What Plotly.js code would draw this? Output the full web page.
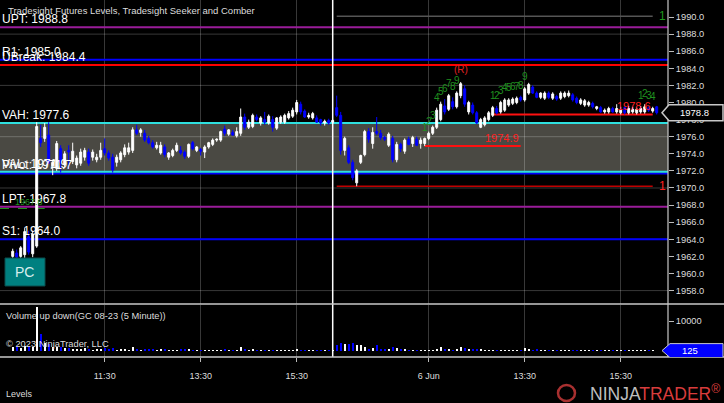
<!DOCTYPE html>
<html><head><meta charset="utf-8">
<script src="https://cdn.plot.ly/plotly-3.0.1.min.js"></script>
<style>html,body{margin:0;padding:0;background:#000;}#chart{width:724px;height:403px;}</style>
</head><body><div id="chart"></div>
<script>
// ---- DATA (5-minute bars, GC 08-23) ----
const opens = [1962.0,1962.4,1962.0,1962.2,1964.3,1962.3,1963.2,1975.8,1975.8,1976.2,1972.6,1972.3,1974.6,1972.7,1974.4,1973.1,1972.7,1972.9,1973.6,1974.2,1973.6,1973.3,1973.6,1974.6,1974.1,1973.6,1973.0,1973.3,1973.9,1974.2,1974.4,1976.8,1976.5,1976.4,1975.8,1975.3,1974.7,1974.1,1974.8,1973.6,1973.8,1974.4,1974.4,1974.2,1973.7,1975.3,1974.4,1974.5,1974.2,1974.8,1975.1,1975.6,1975.6,1976.9,1976.3,1976.5,1976.1,1976.4,1978.3,1977.1,1977.2,1978.3,1977.6,1978.0,1977.6,1978.0,1977.0,1977.7,1977.7,1978.2,1978.4,1978.9,1979.8,1979.0,1978.3,1978.2,1978.2,1978.0,1977.6,1977.9,1977.7,
1979.4,1978.5,1974.4,1974.7,1973.0,1970.6,1973.0,1973.9,1976.6,1975.2,1976.6,1976.4,1975.9,1975.0,1975.8,1973.3,1975.1,1974.3,1975.7,1975.2,1975.7,1975.2,1975.2,1975.8,1976.4,1977.1,1978.0,1979.6,1979.2,1980.1,1979.5,1980.8,1981.6,1978.9,1979.7,1978.8,1977.1,1977.4,1978.0,1978.5,1979.3,1978.9,1979.1,1979.7,1979.9,1980.0,1980.6,1980.3,1981.1,1981.8,1981.1,1980.6,1980.5,1981.1,1980.5,1980.7,1980.5,1980.7,1980.8,1980.9,1980.5,1979.9,1979.7,1979.7,1979.9,1979.3,1979.4,1978.9,1978.9,1979.3,1978.9,1978.8,1979.4,1978.8,1978.9,1978.8,1978.9,1978.9,1979.4,1979.0,1979.5];
const highs = [1962.9,1962.8,1963.2,1965.3,1965.0,1965.0,1977.7,1977.4,1977.6,1977.7,1973.3,1975.5,1975.0,1974.3,1975.0,1975.3,1973.8,1974.6,1974.7,1974.6,1974.5,1974.0,1975.3,1975.8,1974.4,1974.0,1973.9,1974.3,1975.1,1975.3,1977.1,1977.4,1977.0,1976.8,1976.1,1975.6,1975.4,1975.4,1975.1,1974.2,1974.6,1975.3,1974.9,1974.4,1975.2,1975.5,1974.9,1974.7,1975.0,1975.4,1975.8,1975.8,1976.7,1977.3,1976.9,1976.8,1977.1,1979.3,1978.7,1978.0,1978.7,1978.6,1978.4,1978.9,1978.6,1978.4,1978.3,1978.5,1978.7,1979.0,1979.4,1980.3,1980.1,1979.2,1978.8,1978.9,1978.5,1978.1,1978.0,1978.1,1978.0,
1980.8,1978.9,1976.0,1975.0,1973.3,1972.2,1973.9,1976.8,1977.0,1977.1,1978.3,1976.8,1976.1,1976.5,1976.1,1975.4,1975.3,1975.8,1976.0,1976.1,1976.0,1975.9,1975.9,1976.6,1977.3,1979.4,1980.1,1980.4,1981.0,1980.6,1981.3,1982.4,1982.0,1980.2,1980.0,1979.0,1978.2,1978.4,1979.0,1979.6,1979.6,1980.2,1980.5,1980.5,1980.6,1980.7,1980.8,1981.8,1982.3,1982.0,1981.3,1981.2,1981.3,1981.3,1981.2,1980.9,1981.3,1981.3,1981.4,1981.1,1980.7,1980.5,1980.4,1980.2,1980.1,1979.6,1979.6,1979.3,1979.5,1979.5,1979.8,1979.5,1979.6,1979.6,1979.5,1979.4,1979.6,1979.8,1979.6,1979.5,1979.6];
const lows = [1961.6,1961.6,1961.7,1961.8,1962.2,1961.9,1963.0,1974.8,1975.4,1972.8,1971.5,1972.0,1971.8,1972.4,1972.2,1972.8,1972.3,1972.6,1973.2,1972.6,1973.2,1973.0,1973.3,1973.8,1973.2,1971.8,1972.5,1973.0,1973.6,1973.9,1974.1,1976.2,1976.0,1975.4,1975.1,1974.6,1974.5,1973.9,1973.6,1973.3,1973.6,1974.2,1973.9,1973.4,1973.5,1974.4,1974.2,1973.8,1973.5,1974.6,1974.9,1975.4,1975.4,1976.1,1976.1,1976.1,1975.9,1976.1,1976.8,1976.9,1977.0,1977.8,1977.3,1977.4,1977.4,1976.6,1976.8,1977.5,1977.5,1978.0,1978.2,1978.6,1978.6,1978.2,1978.1,1978.0,1977.6,1977.3,1977.3,1977.4,1977.5,
1978.3,1973.9,1973.8,1972.8,1970.9,1970.2,1972.8,1973.7,1975.3,1974.6,1976.2,1975.6,1975.5,1974.8,1973.0,1973.0,1974.2,1974.0,1975.0,1974.8,1974.9,1974.6,1974.9,1975.6,1976.2,1976.9,1977.8,1978.6,1979.0,1979.2,1979.3,1980.5,1979.5,1978.6,1978.6,1977.5,1977.0,1977.2,1977.8,1978.3,1978.6,1978.7,1978.9,1979.5,1979.7,1979.8,1980.1,1980.1,1980.9,1981.0,1980.5,1980.4,1980.3,1980.4,1980.3,1980.2,1980.3,1980.5,1980.6,1980.1,1979.8,1979.7,1979.5,1979.5,1979.3,1979.1,1978.8,1978.7,1978.7,1978.8,1978.7,1978.6,1978.6,1978.6,1978.7,1978.6,1978.7,1978.7,1978.9,1978.8,1978.6];
const closes = [1962.6,1961.9,1963.0,1964.9,1962.5,1964.6,1977.2,1975.3,1977.1,1973.0,1973.0,1975.2,1973.0,1974.0,1974.2,1974.3,1973.5,1974.2,1974.4,1972.9,1974.2,1973.6,1974.4,1974.1,1973.5,1972.1,1973.6,1974.1,1974.7,1974.7,1976.8,1976.4,1976.8,1975.6,1975.3,1974.8,1975.0,1975.0,1973.9,1974.1,1974.4,1975.0,1974.1,1973.7,1975.1,1974.6,1974.8,1974.3,1974.8,1975.3,1975.6,1975.7,1976.6,1976.4,1976.8,1976.2,1976.6,1978.3,1977.1,1977.7,1978.5,1978.0,1978.2,1977.7,1978.4,1977.1,1978.2,1978.3,1978.5,1978.7,1979.1,1980.0,1978.9,1978.3,1978.5,1978.7,1977.7,1977.6,1977.8,1977.6,1977.9,
1978.5,1974.4,1975.8,1973.0,1971.2,1972.0,1973.8,1976.6,1975.7,1976.5,1976.4,1975.9,1975.7,1976.3,1973.3,1975.1,1974.6,1975.6,1975.1,1975.9,1975.0,1975.6,1975.8,1976.4,1977.1,1979.1,1979.8,1978.9,1980.8,1979.5,1981.1,1982.2,1979.8,1980.0,1978.8,1977.6,1978.0,1978.2,1978.8,1979.4,1978.8,1980.0,1980.3,1980.3,1980.4,1980.5,1980.3,1981.6,1982.1,1981.1,1980.6,1981.1,1981.1,1980.6,1981.0,1980.4,1981.1,1981.1,1981.1,1980.3,1980.0,1980.3,1980.2,1980.0,1979.5,1979.5,1978.9,1979.1,1979.3,1978.9,1979.3,1979.1,1978.8,1979.3,1979.2,1979.2,1979.3,1979.5,1979.1,1979.3,1978.8];
const volumes = [1200,1500,1100,1800,1600,1400,14600,5800,2600,2400,1300,1500,1200,900,1100,800,600,700,900,800,500,600,700,900,600,1000,500,600,700,500,1400,700,500,800,700,800,500,600,700,400,500,500,600,700,600,500,400,500,400,500,400,300,500,600,400,300,400,1500,700,500,600,400,400,300,400,400,500,300,300,300,400,600,500,400,300,300,400,300,200,300,300,
1900,2700,2200,2500,2600,2100,1900,1500,800,900,1900,800,600,700,1400,900,600,800,500,500,400,400,500,400,500,800,1400,700,600,500,800,1400,1000,700,600,800,600,500,400,500,400,500,400,300,300,300,400,1000,700,500,600,300,300,400,300,300,300,300,300,400,300,200,300,200,300,200,300,200,200,200,200,200,300,200,200,300,500,300,200,200,125];

const tickBars = [23, 47, 71, 104, 128, 152];
const tickLabels = ['11:30', '13:30', '15:30', '6 Jun', '13:30', '15:30'];
const sessionBreakBar = 80;

const levelNames = ['UPT', 'R1', 'UBreak', 'VAH', 'Pivot', 'VAL', 'LPT', 'S1'];
const levelValues = [1988.8, 1985.0, 1984.4, 1977.6, 1971.7, 1971.9, 1967.8, 1964.0];
const pcLevel = 1967.6;
const gridPrices = [1958, 1964, 1970, 1976, 1982, 1988];

const seqStarts = [103, 120, 157];
const seqCounts = [9, 9, 4];
const reversalBar = 112;

const targetValues = [1974.9, 1978.6];
const targetStarts = [103, 120];
const targetEnds = [127, 160];

const comberValues = [1990.1, 1970.2];
const comberStarts = [81, 81];
const comberEnds = [160, 160];
const comberCounts = ['1', '1'];

// ---- STYLE / LAYOUT CONSTANTS ----
const W = 724, H = 403, plotW = 668, plotH = 357;
const barPx = 4, firstBarPx = 12.7;
const xr0 = -firstBarPx / barPx, xr1 = xr0 + plotW / barPx;
const FONT = 'Liberation Sans, Arial, sans-serif';
const levelColor = {UPT:'#9a1c9a', R1:'#0000ff', UBreak:'#ff0000', VAH:'#2ee0e0', VAL:'#2ee0e0', Pivot:'#0000ff', LPT:'#9a1c9a', S1:'#0000ff'};
const comberColors = ['#555555', '#c00000'];
const comberLabelColors = ['#1f9a1f', '#ff2020'];
const GREEN = '#1f8f1f';
const px = p => p / plotW;
const py = p => (plotH - p) / plotH;

const idx = opens.map((_, i) => i);
const N = idx.length;
const lastPrice = closes[N - 1];
const lastVol = volumes[N - 1];

const candle = {
  type: 'candlestick', x: idx, open: opens, high: highs, low: lows, close: closes,
  xaxis: 'x', yaxis: 'y', whiskerwidth: 0, hoverinfo: 'skip',
  increasing: {line: {color: '#ffffff', width: 1}, fillcolor: '#ffffff'},
  decreasing: {line: {color: '#0000ff', width: 1}, fillcolor: '#0000ff'}
};
const vol = {
  type: 'bar', x: idx, y: volumes, xaxis: 'x', yaxis: 'y2', width: 0.55, hoverinfo: 'skip',
  marker: {color: idx.map(i => closes[i] >= opens[i] ? '#ffffff' : '#0000ff'), line: {width: 0}}
};

const shapes = [];
const ann = [];
// value area box
const vah = levelValues[levelNames.indexOf('VAH')], val = levelValues[levelNames.indexOf('VAL')];
shapes.push({type:'rect', xref:'x', yref:'y', x0:xr0, x1:xr1, y0:val, y1:vah, fillcolor:'#4a4943', line:{width:0}, layer:'below'});
gridPrices.forEach(g => shapes.push({type:'line', xref:'x', yref:'y', x0:xr0, x1:xr1, y0:g, y1:g, line:{color:'rgba(255,255,255,0.22)', width:1}, layer:'below'}));
// level lines + labels
levelNames.forEach((n, i) => {
  shapes.push({type:'line', xref:'x', yref:'y', x0:xr0, x1:xr1, y0:levelValues[i], y1:levelValues[i], line:{color:levelColor[n], width:2}, layer:'between'});
  ann.push({xref:'paper', yref:'y', x:0, y:levelValues[i], xanchor:'left', yanchor:'bottom', yshift:-1, showarrow:false,
    text: n + ': ' + levelValues[i].toFixed(1), font:{size:12, color:'#ffffff', family:FONT}});
});
// PC dashed level
shapes.push({type:'line', xref:'x', yref:'y', x0:xr0, x1:8, y0:pcLevel, y1:pcLevel, line:{color:GREEN, width:1, dash:'dash'}, layer:'between'});
ann.push({xref:'x', yref:'y', x:8, y:pcLevel, xanchor:'right', yanchor:'bottom', showarrow:false, text:pcLevel.toFixed(1), font:{size:9, color:GREEN, family:FONT}});
// comber lines
comberValues.forEach((v, i) => {
  shapes.push({type:'line', xref:'x', yref:'y', x0:comberStarts[i], x1:comberEnds[i], y0:v, y1:v, line:{color:comberColors[i], width:1.5}, layer:'between'});
  ann.push({xref:'x', yref:'y', x:comberEnds[i], y:v, xanchor:'left', yanchor:'middle', xshift:4, showarrow:false, text:comberCounts[i], font:{size:12, color:comberLabelColors[i], family:FONT}});
});
// targets
targetValues.forEach((v, i) => {
  shapes.push({type:'line', xref:'x', yref:'y', x0:targetStarts[i], x1:targetEnds[i], y0:v, y1:v, line:{color:'#ff1010', width:2}, layer:'between'});
  ann.push({xref:'x', yref:'y', x:targetEnds[i], y:v, xanchor:'right', yanchor:'bottom', showarrow:false, text:v.toFixed(1), font:{size:11, color:'#ff2020', family:FONT}});
});
// sequence counts
seqStarts.forEach((s, j) => {
  for (let k = 0; k < seqCounts[j]; k++) {
    const b = s + k;
    ann.push({xref:'x', yref:'y', x:b, y:highs[b], xanchor:'center', yanchor:'bottom', yshift:3, showarrow:false, text:String(k + 1), font:{size:10, color:GREEN, family:FONT}});
  }
});
ann.push({xref:'x', yref:'y', x:reversalBar, y:highs[reversalBar], xanchor:'center', yanchor:'bottom', yshift:5, showarrow:false, text:'(R)', font:{size:10, color:'#e02020', family:FONT}});
// session break
shapes.push({type:'line', xref:'x', yref:'paper', x0:sessionBreakBar, x1:sessionBreakBar, y0:0, y1:1, line:{color:'#ffffff', width:1.5}, layer:'above'});
// panel borders
shapes.push({type:'line', xref:'paper', yref:'paper', x0:0, x1:W/plotW, y0:py(304), y1:py(304), line:{color:'#c8c8c8', width:1.5}, layer:'above'});
shapes.push({type:'line', xref:'paper', yref:'paper', x0:0, x1:W/plotW, y0:0, y1:0, line:{color:'#c8c8c8', width:1.5}, layer:'above'});
shapes.push({type:'line', xref:'paper', yref:'paper', x0:1, x1:1, y0:0, y1:1, line:{color:'#c8c8c8', width:1.2}, layer:'above'});
// PC box
shapes.push({type:'rect', xref:'paper', yref:'paper', x0:px(5), x1:px(45), y0:py(286), y1:py(258), fillcolor:'#008080', line:{color:'#0b4c4c', width:1}, layer:'above'});
ann.push({xref:'paper', yref:'paper', x:px(25), y:py(272), xanchor:'center', yanchor:'middle', showarrow:false, text:'PC', font:{size:14, color:'#d8eeee', family:FONT}});
// last price marker
shapes.push({type:'path', xref:'paper', yref:'y', xsizemode:'pixel', ysizemode:'pixel', xanchor:1, yanchor:lastPrice,
  path:'M -6 0 L 1 8 L 55 8 L 55 -8 L 1 -8 Z', fillcolor:'#000000', line:{color:'#c8c8c8', width:1.5}, layer:'above'});
ann.push({xref:'paper', yref:'y', x:1, y:lastPrice, xanchor:'left', yanchor:'middle', xshift:10, showarrow:false, text:lastPrice.toFixed(1), font:{size:9.5, color:'#ffffff', family:FONT}});
// last volume marker
shapes.push({type:'path', xref:'paper', yref:'y2', xsizemode:'pixel', ysizemode:'pixel', xanchor:1, yanchor:lastVol,
  path:'M -6 0 L 2 7 L 55 7 L 55 -7 L 2 -7 Z', fillcolor:'#0000ff', line:{color:'#c8c8c8', width:1}, layer:'above'});
ann.push({xref:'paper', yref:'y2', x:1, y:lastVol, xanchor:'left', yanchor:'middle', xshift:12, showarrow:false, text:String(lastVol), font:{size:9.5, color:'#ffffff', family:FONT}});
// texts
ann.push({xref:'paper', yref:'paper', x:px(6), y:py(3), xanchor:'left', yanchor:'top', showarrow:false, text:'Tradesight Futures Levels, Tradesight Seeker and Comber', font:{size:9.5, color:'#dddddd', family:FONT}});
ann.push({xref:'paper', yref:'paper', x:px(4), y:py(316), xanchor:'left', yanchor:'middle', showarrow:false, text:'Volume up down(GC 08-23 (5 Minute))', font:{size:9.3, color:'#dddddd', family:FONT}});
ann.push({xref:'paper', yref:'paper', x:px(4), y:py(344), xanchor:'left', yanchor:'middle', showarrow:false, text:'© 2023 NinjaTrader, LLC', font:{size:9.3, color:'#dddddd', family:FONT}});
ann.push({xref:'paper', yref:'paper', x:px(4), y:py(394), xanchor:'left', yanchor:'middle', showarrow:false, text:'Levels', font:{size:9, color:'#dddddd', family:FONT}});
ann.push({xref:'paper', yref:'paper', x:px(722), y:py(393), xanchor:'right', yanchor:'middle', showarrow:false,
  text:'<span style="color:#bdbdbd">NINJA</span><span style="color:#d83c3c">TRADER</span><sup>®</sup>', font:{size:17.5, color:'#d83c3c', family:FONT}});
shapes.push({type:'circle', xref:'paper', yref:'paper', x0:px(558), x1:px(575), y0:py(401), y1:py(385), line:{color:'#a83030', width:2.5}, fillcolor:'rgba(0,0,0,0)', layer:'above'});

const layout = {
  width: W, height: H, margin: {l:0, r:W - plotW, t:0, b:H - plotH, pad:0},
  paper_bgcolor: '#000000', plot_bgcolor: 'rgba(0,0,0,0)', showlegend: false,
  font: {family: FONT, color: '#dddddd'},
  xaxis: {range:[xr0, xr1], anchor:'y2', tickmode:'array', tickvals:tickBars, ticktext:tickLabels,
    showgrid:true, gridcolor:'rgba(255,255,255,0.22)', gridwidth:1, zeroline:false, showline:false,
    ticks:'outside', ticklen:4, tickcolor:'#bbbbbb', ticklabelstandoff:6,
    tickfont:{size:9, color:'#dddddd', family:FONT}, rangeslider:{visible:false}, fixedrange:true},
  yaxis: {domain:[(plotH - 304) / plotH, 1], anchor:'x', side:'right', range:[1956.43, 1991.99],
    tick0:1958, dtick:2, tickformat:'.1f', ticks:'outside', ticklen:5, tickcolor:'#bbbbbb',
    tickfont:{size:9.3, color:'#dddddd', family:FONT}, showgrid:false, zeroline:false, showline:false, fixedrange:true},
  yaxis2: {domain:[0, (plotH - 305) / plotH], anchor:'x', side:'right', range:[-2000, 15333],
    tickmode:'array', tickvals:[10000], ticktext:['10000'], ticks:'outside', ticklen:5, tickcolor:'#bbbbbb',
    tickfont:{size:9.3, color:'#dddddd', family:FONT}, showgrid:false, zeroline:false, showline:false, fixedrange:true},
  bargap: 0, shapes: shapes, annotations: ann
};
Plotly.newPlot('chart', [candle, vol], layout, {displayModeBar:false, staticPlot:true});
</script>
</body></html>
